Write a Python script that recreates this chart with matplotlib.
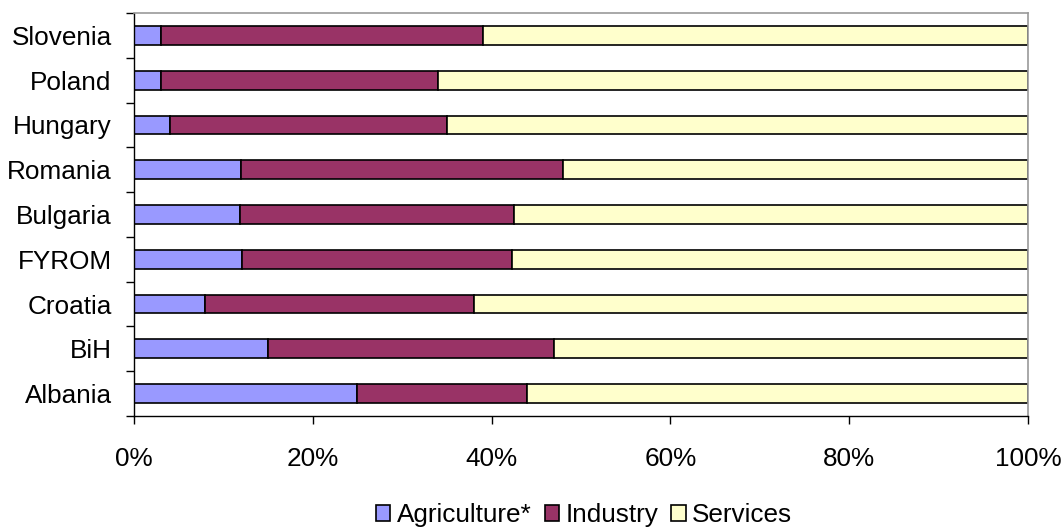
import matplotlib
matplotlib.use("Agg")
import matplotlib.pyplot as plt
import numpy as np
from matplotlib.ticker import FixedLocator, PercentFormatter

# Economic structure by sector, share of GDP (%), bottom to top
countries = ["Albania", "BiH", "Croatia", "FYROM", "Bulgaria",
             "Romania", "Hungary", "Poland", "Slovenia"]
agriculture = [25.0, 15.0, 8.0, 12.1, 11.9, 12.0, 4.0, 3.0, 3.0]
industry = [19.0, 32.0, 30.0, 30.2, 30.6, 36.0, 31.0, 31.0, 36.0]
services = [100 - a - i for a, i in zip(agriculture, industry)]

series_names = ["Agriculture*", "Industry", "Services"]
series_colors = ["#9999FF", "#993366", "#FFFFCC"]

plt.rcParams["font.family"] = ["Liberation Sans", "DejaVu Sans"]
FS = 18.8

fig = plt.figure(figsize=(10.64, 5.28), dpi=100)
ax = fig.add_axes([0.1259, 0.2121, 0.9662 - 0.1259, 0.9754 - 0.2121])

y = np.arange(len(countries))
left = np.zeros(len(countries))
for name, vals, color in zip(series_names, [agriculture, industry, services], series_colors):
    ax.barh(y, vals, left=left, height=0.42, color=color,
            edgecolor="black", linewidth=1.2, label=name)
    left += np.array(vals)

ax.set_xlim(0, 100)
ax.set_ylim(-0.5, len(countries) - 0.5)

ax.xaxis.set_major_locator(FixedLocator([0, 20, 40, 60, 80, 100]))
ax.xaxis.set_major_formatter(PercentFormatter(decimals=0))
ax.tick_params(axis="x", direction="out", length=6, width=1, pad=16,
               labelsize=FS, colors="black")

# category labels centred, tick marks on the category boundaries
ax.set_yticks(y)
ax.set_yticklabels(countries)
ax.tick_params(axis="y", which="major", length=0, pad=16, labelsize=FS)
ax.set_yticks(np.arange(len(countries) + 1) - 0.5, minor=True)
ax.tick_params(axis="y", which="minor", direction="out", length=6, width=1)

for side in ("left", "bottom"):
    ax.spines[side].set_color("black")
    ax.spines[side].set_linewidth(1)
for side in ("top", "right"):
    ax.spines[side].set_color("#999999")
    ax.spines[side].set_linewidth(1.2)

leg = fig.legend(loc="lower center", bbox_to_anchor=(0.549, -0.043), ncol=3,
                 frameon=False, fontsize=FS, handlelength=0.55, handleheight=0.6,
                 handletextpad=0.25, columnspacing=0.5)

fig.savefig("out.png", dpi=100)
